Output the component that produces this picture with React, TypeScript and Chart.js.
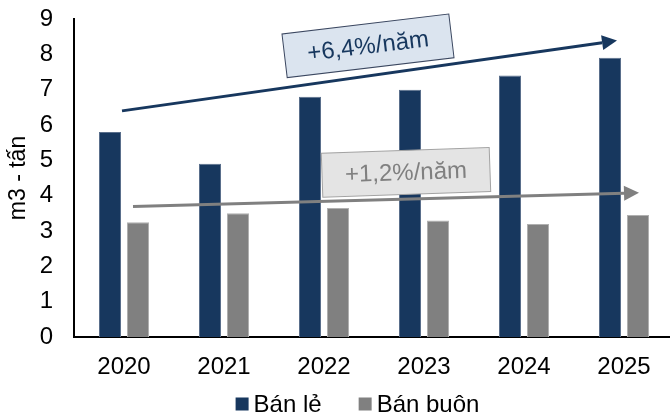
import React, { useEffect, useRef } from "react";
import { Chart, registerables } from "chart.js";

Chart.register(...registerables);

// ---- data ----
const years = ["2020", "2021", "2022", "2023", "2024", "2025"];
const retail = [5.8, 4.9, 6.8, 7.0, 7.4, 7.9];
const wholesale = [3.25, 3.5, 3.65, 3.3, 3.2, 3.45];
const seriesNames = ["Bán lẻ", "Bán buôn"];
const growthLabels = ["+6,4%/năm", "+1,2%/năm"];
const yAxisTitle = "m3 - tấn";

// ---- styles ----
const NAVY = "#17375E";
const GREY = "#808080";
const FONT = "'Liberation Sans', Arial, sans-serif";
const TICK_SIZE = 24;

// Trend arrows with their rotated labels, placed in data coordinates
// (x = category index, y = value on the left axis).
const trends = [
  {
    label: growthLabels[0],
    from: [-0.02, 6.4],
    to: [4.93, 8.39],
    box: [2.44, 8.24],
    angle: -6.8,
    line: NAVY,
    fill: "#DBE4EF",
    border: "#3B4760",
    text: NAVY,
  },
  {
    label: growthLabels[1],
    from: [0.09, 3.69],
    to: [5.15, 4.08],
    box: [2.82, 4.66],
    angle: -2.0,
    line: GREY,
    fill: "#E4E4E4",
    border: "#A3A3A3",
    text: GREY,
  },
];

const trendPlugin = {
  id: "trendArrows",
  afterDatasetsDraw(chart: any) {
    const { ctx, scales } = chart;
    const xs = scales.x;
    const ys = scales.y;
    const px = (i: number) => {
      const a = xs.getPixelForValue(0);
      const b = xs.getPixelForValue(1);
      return a + (b - a) * i;
    };
    const py = (v: number) => ys.getPixelForValue(v);
    ctx.save();
    for (const t of trends) {
      const x0 = px(t.from[0]);
      const y0 = py(t.from[1]);
      const x1 = px(t.to[0]);
      const y1 = py(t.to[1]);
      const ang = Math.atan2(y1 - y0, x1 - x0);
      const head = 15;
      const half = 7.5;
      const bx = x1 - head * Math.cos(ang);
      const by = y1 - head * Math.sin(ang);
      ctx.strokeStyle = t.line;
      ctx.lineWidth = 3;
      ctx.beginPath();
      ctx.moveTo(x0, y0);
      ctx.lineTo(bx, by);
      ctx.stroke();
      ctx.fillStyle = t.line;
      ctx.beginPath();
      ctx.moveTo(x1, y1);
      ctx.lineTo(bx - half * Math.sin(ang), by + half * Math.cos(ang));
      ctx.lineTo(bx + half * Math.sin(ang), by - half * Math.cos(ang));
      ctx.closePath();
      ctx.fill();

      // rotated label box
      const cx = px(t.box[0]);
      const cy = py(t.box[1]);
      const w = 168;
      const h = 44;
      ctx.save();
      ctx.translate(cx, cy);
      ctx.rotate((t.angle * Math.PI) / 180);
      ctx.fillStyle = t.fill;
      ctx.fillRect(-w / 2, -h / 2, w, h);
      ctx.strokeStyle = t.border;
      ctx.lineWidth = 1;
      ctx.strokeRect(-w / 2, -h / 2, w, h);
      ctx.fillStyle = t.text;
      ctx.font = `24px ${FONT}`;
      ctx.textAlign = "center";
      ctx.textBaseline = "middle";
      ctx.fillText(t.label, 0, 1);
      ctx.restore();
    }
    ctx.restore();
  },
};

const legendPlugin = {
  id: "bottomLegend",
  afterDraw(chart: any) {
    const { ctx } = chart;
    const ds = chart.data.datasets;
    ctx.save();
    ctx.font = `24px ${FONT}`;
    ctx.textBaseline = "middle";
    ctx.textAlign = "left";
    const box = 13;
    const gapText = 5;
    const gapItem = 37;
    const widths = ds.map((d: any) => box + gapText + ctx.measureText(d.label).width);
    const total = widths.reduce((a: number, b: number) => a + b, 0) + gapItem * (ds.length - 1);
    const centerX = 357.5;
    const cy = 404;
    let x = centerX - total / 2;
    ds.forEach((d: any, i: number) => {
      ctx.fillStyle = d.backgroundColor;
      ctx.fillRect(x, cy - box / 2, box, box);
      ctx.fillStyle = "#000";
      ctx.fillText(d.label, x + box + gapText, cy + 1);
      x += widths[i] + gapItem;
    });
    ctx.restore();
  },
};

export default function App() {
  const ref = useRef<HTMLCanvasElement | null>(null);

  useEffect(() => {
    if (!ref.current) return;
    const chart = new Chart(ref.current, {
      type: "bar",
      data: {
        labels: years,
        datasets: [
          {
            label: seriesNames[0],
            data: retail,
            backgroundColor: NAVY,
            borderColor: "#5A6F8C",
            borderWidth: 1,
            categoryPercentage: 0.56,
            barPercentage: 0.786,
          },
          {
            label: seriesNames[1],
            data: wholesale,
            backgroundColor: GREY,
            borderColor: "#B0B0B0",
            borderWidth: 1,
            categoryPercentage: 0.56,
            barPercentage: 0.786,
          },
        ],
      },
      options: {
        responsive: false,
        animation: false,
        layout: { padding: { left: 0, right: 16, top: 19, bottom: 0 } },
        plugins: {
          legend: { display: false },
          tooltip: { enabled: false },
        },
        scales: {
          x: {
            grid: { display: false, drawTicks: false },
            border: { display: true, color: "#000", width: 2 },
            ticks: {
              color: "#000",
              padding: 16,
              font: { family: FONT, size: TICK_SIZE },
            },
            afterFit: (axis: any) => {
              axis.height = 80;
              axis.paddingLeft = 0;
              axis.paddingRight = 0;
            },
          },
          y: {
            min: 0,
            max: 9,
            grid: { display: false, drawTicks: false },
            border: { display: true, color: "#000", width: 2 },
            ticks: {
              stepSize: 1,
              color: "#000",
              padding: 21,
              font: { family: FONT, size: TICK_SIZE },
            },
            title: {
              display: true,
              text: yAxisTitle,
              color: "#000",
              padding: { top: 5, bottom: 0 },
              font: { family: FONT, size: 23 },
            },
            afterFit: (axis: any) => {
              axis.width = 74;
              axis.paddingTop = 0;
              axis.paddingBottom = 0;
            },
          },
        },
      },
      plugins: [trendPlugin, legendPlugin],
    });
    return () => chart.destroy();
  }, []);

  return (
    <div style={{ position: "fixed", left: 0, top: 0, width: 690, height: 417, background: "#fff" }}>
      <canvas ref={ref} width={690} height={417} />
    </div>
  );
}
